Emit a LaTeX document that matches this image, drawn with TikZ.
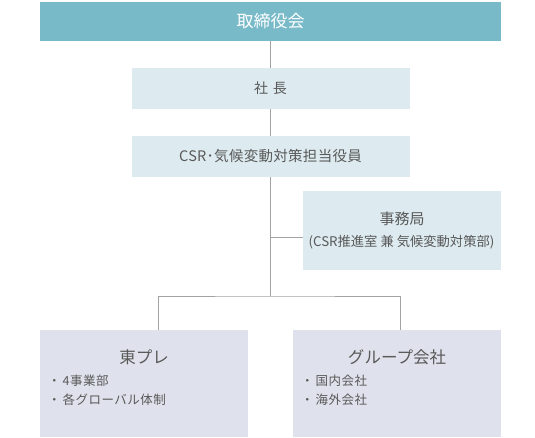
\documentclass[tikz,border=0pt]{standalone}
\usepackage{fontspec}
\setmainfont{Noto Sans CJK JP}
\usepackage{xcolor}
\usetikzlibrary{positioning}
\definecolor{bleu_fonce}{HTML}{79BAC9}
\definecolor{bleu_clair}{HTML}{DDEBF0}
\definecolor{gris_clair}{HTML}{DFE2EC}
\definecolor{gris_trait}{HTML}{A3A3A3}
\definecolor{gris_texte}{HTML}{595959}
\newcommand{\espace}[1]{\addfontfeature{LetterSpace=#1}}

\begin{document}
\begin{tikzpicture}[x=1pt,y=-1pt,
    boite/.style={inner sep=0pt, outer sep=0pt, align=center, text=gris_texte},
    trait/.style={gris_trait, line width=1pt}]

    \useasboundingbox (0,0) rectangle (535,437);

    % Les boites du haut
    \node[boite, fill=bleu_fonce, text=white, minimum width=461pt, minimum height=39pt, font=\fontsize{17}{20}\selectfont] (conseil) at (270.5,21.5) {取締役会};
    \node[boite, fill=bleu_clair, minimum width=278pt, minimum height=41pt, font=\fontsize{14}{17}\selectfont\espace{12}] (president) at (270.5,88.5) {社 長};
    \node[boite, fill=bleu_clair, minimum width=278pt, minimum height=41pt, font=\fontsize{14.5}{17}\selectfont\espace{2}] (responsable) at (270.5,156.5) {CSR･気候変動対策担当役員};

    % Le secretariat
    \node[boite, fill=bleu_clair, minimum width=198pt, minimum height=79pt] (secretariat) at (402,230.5) {};
    \node[boite, font=\fontsize{15}{18}\selectfont] (secretariat_titre) at (402,219) {事務局};
    \node[boite, font=\fontsize{13.3}{15}\selectfont] (secretariat_sous) at (401.5,242) {(CSR推進室 兼 気候変動対策部)};

    % Les boites du bas
    \node[boite, fill=gris_clair, minimum width=208pt, minimum height=107pt] (toyo) at (144,383.5) {};
    \node[boite, fill=gris_clair, minimum width=208pt, minimum height=107pt] (groupe) at (397,383.5) {};
    \node[boite, font=\fontsize{16.5}{20}\selectfont] (toyo_titre) at (144,357) {東プレ};
    \node[boite, font=\fontsize{16.5}{20}\selectfont] (groupe_titre) at (397,357) {グループ会社};
    \node[boite, anchor=west, align=left, font=\fontsize{12.5}{19}\selectfont\espace{4}] (toyo_liste) at (48,390.5) {・\,4事業部\\・\,各グローバル体制};
    \node[boite, anchor=west, align=left, font=\fontsize{12.5}{19}\selectfont\espace{4}] (groupe_liste) at (301,390.5) {・\,国内会社\\・\,海外会社};

    % Les traits
    \coordinate (jonction) at (270.5,296);
    \coordinate (branche) at (270.5,237);
    \draw[trait] (conseil) -- (president);
    \draw[trait] (president) -- (responsable);
    \draw[trait] (responsable) -- (jonction);
    \draw[trait] (branche) -- (branche -| secretariat.west);
    \draw[trait] (toyo.north -| 158,0) |- (jonction) -| (groupe.north -| 400,0);
\end{tikzpicture}
\end{document}
